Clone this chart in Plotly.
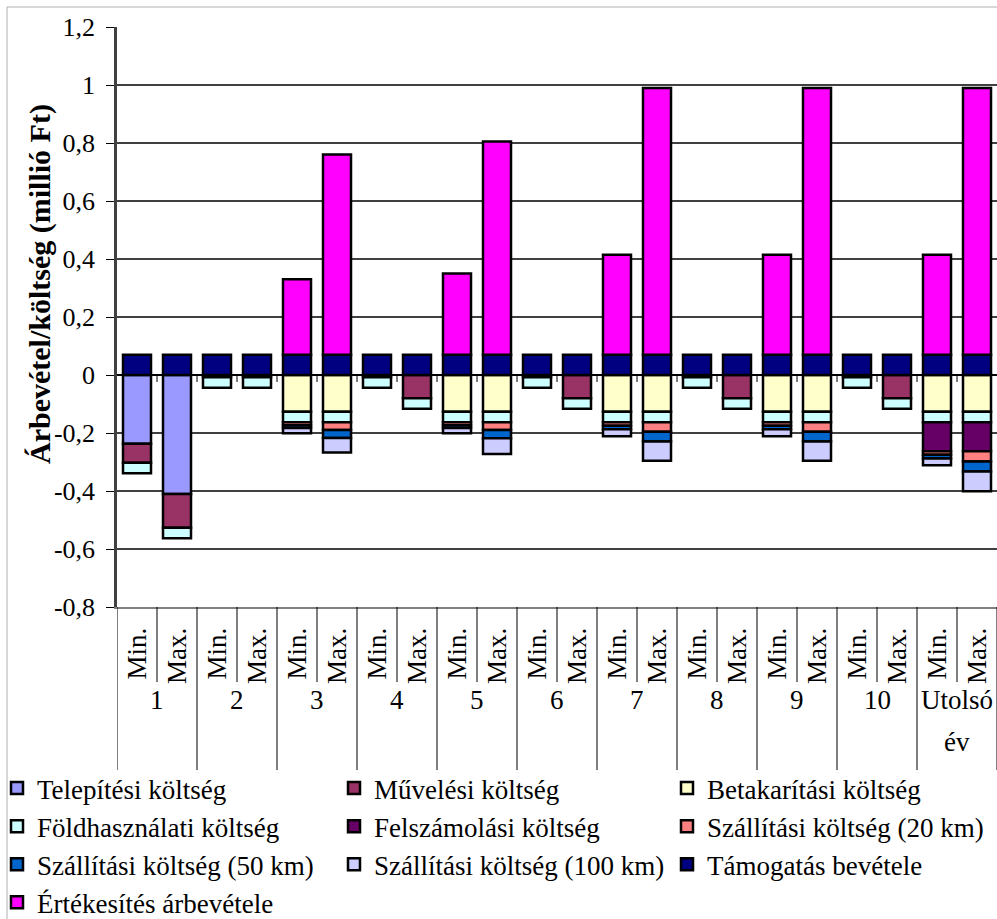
import plotly.graph_objects as go

# ---- categories ---------------------------------------------------------
groups = ["1", "2", "3", "4", "5", "6", "7", "8", "9", "10", "Utolsó év"]
subs = ["Min.", "Max."]

# ---- series values (million Ft); costs negative, revenues positive -------
telepitesi = [-0.237, -0.41, 0, 0, 0, 0, 0, 0, 0, 0, 0, 0, 0, 0, 0, 0, 0, 0, 0, 0, 0, 0]
muvelesi = [-0.066, -0.117, -0.008, -0.008, 0, 0, -0.008, -0.08, 0, 0, -0.008, -0.08,
            0, 0, -0.008, -0.08, 0, 0, -0.008, -0.08, 0, 0]
betakaritasi = [0, 0, 0, 0, -0.127, -0.127, 0, 0, -0.127, -0.127, 0, 0,
                -0.127, -0.127, 0, 0, -0.127, -0.127, 0, 0, -0.127, -0.127]
foldhasznalati = [-0.036, -0.036, -0.036, -0.036, -0.036, -0.036, -0.036, -0.036, -0.036, -0.036, -0.036,
                  -0.036, -0.036, -0.036, -0.036, -0.036, -0.036, -0.036, -0.036, -0.036, -0.036, -0.036]
felszamolasi = [0, 0, 0, 0, 0, 0, 0, 0, 0, 0, 0, 0, 0, 0, 0, 0, 0, 0, 0, 0, -0.1, -0.1]
szallitasi_20 = [0, 0, 0, 0, -0.01, -0.027, 0, 0, -0.01, -0.027, 0, 0,
                 -0.012, -0.033, 0, 0, -0.012, -0.033, 0, 0, -0.012, -0.035]
szallitasi_50 = [0, 0, 0, 0, -0.01, -0.027, 0, 0, -0.01, -0.028, 0, 0,
                 -0.012, -0.033, 0, 0, -0.012, -0.033, 0, 0, -0.013, -0.035]
szallitasi_100 = [0, 0, 0, 0, -0.018, -0.05, 0, 0, -0.018, -0.054, 0, 0,
                  -0.024, -0.067, 0, 0, -0.024, -0.067, 0, 0, -0.023, -0.068]
tamogatas = [0.07, 0.07, 0.07, 0.07, 0.07, 0.07, 0.07, 0.07, 0.07, 0.07, 0.07,
             0.07, 0.07, 0.07, 0.07, 0.07, 0.07, 0.07, 0.07, 0.07, 0.07, 0.07]
ertekesites = [0, 0, 0, 0, 0.26, 0.69, 0, 0, 0.28, 0.735, 0, 0,
               0.345, 0.92, 0, 0, 0.345, 0.92, 0, 0, 0.345, 0.92]

y_ticks = [-0.8, -0.6, -0.4, -0.2, 0, 0.2, 0.4, 0.6, 0.8, 1.0, 1.2]
y_tick_labels = ["-0,8", "-0,6", "-0,4", "-0,2", "0", "0,2", "0,4", "0,6", "0,8", "1", "1,2"]

series = [
    ("Telepítési költség", telepitesi, "#9999FF"),
    ("Művelési költség", muvelesi, "#993366"),
    ("Betakarítási költség", betakaritasi, "#FFFFCC"),
    ("Földhasználati költség", foldhasznalati, "#CCFFFF"),
    ("Felszámolási költség", felszamolasi, "#660066"),
    ("Szállítási költség (20 km)", szallitasi_20, "#FF8080"),
    ("Szállítási költség (50 km)", szallitasi_50, "#0066CC"),
    ("Szállítási költség (100 km)", szallitasi_100, "#CCCCFF"),
    ("Támogatás bevétele", tamogatas, "#000080"),
    ("Értékesítés árbevétele", ertekesites, "#FF00FF"),
]

# ---- page geometry --------------------------------------------------------
W, H = 997, 919
ML, MR, MT, MB = 117, 0, 27, 312
PW, PH = W - ML - MR, H - MT - MB
FONT = "Liberation Serif"
TXT = 27


def paper_x(px):
    return (px - ML) / PW


def paper_y(py):
    return (H - MB - py) / PH


cats = [f"{g} {s}" for g in groups for s in subs]
sub_text = [s for g in groups for s in subs]

fig = go.Figure()
legend_names = ["legend", "legend2", "legend3"]
for i, (name, vals, color) in enumerate(series):
    fig.add_trace(go.Bar(
        x=cats,
        y=[v if v != 0 else None for v in vals],
        name=name,
        marker=dict(color=color, line=dict(color="black", width=2.5)),
        legend=legend_names[i % 3],
        legendgroup=name,
    ))

shapes = []
# category separators below the plot: short between Min./Max., long between groups
for i in range(len(cats) + 1):
    depth = 163 if i % 2 == 0 else 75
    shapes.append(dict(type="line", xref="x", yref="paper",
                       x0=i - 0.5, x1=i - 0.5, y0=0, y1=-depth / PH,
                       line=dict(color="black", width=1)))
# small category ticks on the zero line
for i in range(1, len(cats)):
    shapes.append(dict(type="line", xref="x", yref="y", ysizemode="pixel", yanchor=0,
                       x0=i - 0.5, x1=i - 0.5, y0=0, y1=-7,
                       line=dict(color="black", width=1)))
# outer chart frame
shapes.append(dict(type="rect", xref="paper", yref="paper",
                   x0=paper_x(7), x1=paper_x(W + 10), y0=paper_y(H + 10), y1=paper_y(7),
                   line=dict(color="#b0b0b0", width=1), layer="below"))

annotations = []
# group labels, one annotation per text line
for g, label in enumerate(groups):
    for k, line in enumerate(label.split(" ")):
        annotations.append(dict(text=line, xref="x", yref="paper",
                                x=2 * g + 0.5, y=paper_y(700 + 42 * k),
                                xanchor="center", yanchor="middle", showarrow=False,
                                font=dict(family=FONT, size=TXT, color="black")))
# y-axis title
annotations.append(dict(text="<b>Árbevétel/költség (millió Ft)</b>", textangle=-90,
                        xref="paper", yref="paper", x=paper_x(40), y=paper_y(284),
                        xanchor="center", yanchor="middle", showarrow=False,
                        font=dict(family=FONT, size=30, color="black")))

legend_cols = [-3, 334, 667]
legend_common = dict(orientation="v", xanchor="left", yanchor="top", y=paper_y(764),
                     traceorder="grouped", tracegroupgap=0,
                     font=dict(family=FONT, size=TXT, color="black"),
                     bgcolor="rgba(0,0,0,0)")

fig.update_layout(
    width=W, height=H,
    margin=dict(l=ML, r=MR, t=MT, b=MB, autoexpand=False),
    paper_bgcolor="white", plot_bgcolor="white",
    barmode="relative", bargap=0.3,
    font=dict(family=FONT, size=TXT, color="black"),
    showlegend=True,
    shapes=shapes, annotations=annotations,
    legend=dict(legend_common, x=paper_x(legend_cols[0])),
    legend2=dict(legend_common, x=paper_x(legend_cols[1])),
    legend3=dict(legend_common, x=paper_x(legend_cols[2])),
    xaxis=dict(type="category", categoryorder="array", categoryarray=cats,
               range=[-0.5, len(cats) - 0.5],
               tickvals=cats, ticktext=sub_text, tickangle=-90, ticks="",
               ticklabelstandoff=8, automargin=False,
               tickfont=dict(family=FONT, size=TXT, color="black"),
               showline=True, linecolor="#808080", linewidth=2,
               showgrid=False, zeroline=False),
    yaxis=dict(range=[-0.8, 1.2], tickvals=y_ticks, ticktext=y_tick_labels,
               ticks="outside", ticklen=8, tickcolor="black", tickwidth=1,
               ticklabelstandoff=6, automargin=False,
               tickfont=dict(family=FONT, size=26, color="black"),
               showgrid=True, gridcolor="#404040", gridwidth=1.5,
               zeroline=True, zerolinecolor="black", zerolinewidth=2,
               showline=True, linecolor="#404040", linewidth=2.5),
)

fig.write_html("out.html")
